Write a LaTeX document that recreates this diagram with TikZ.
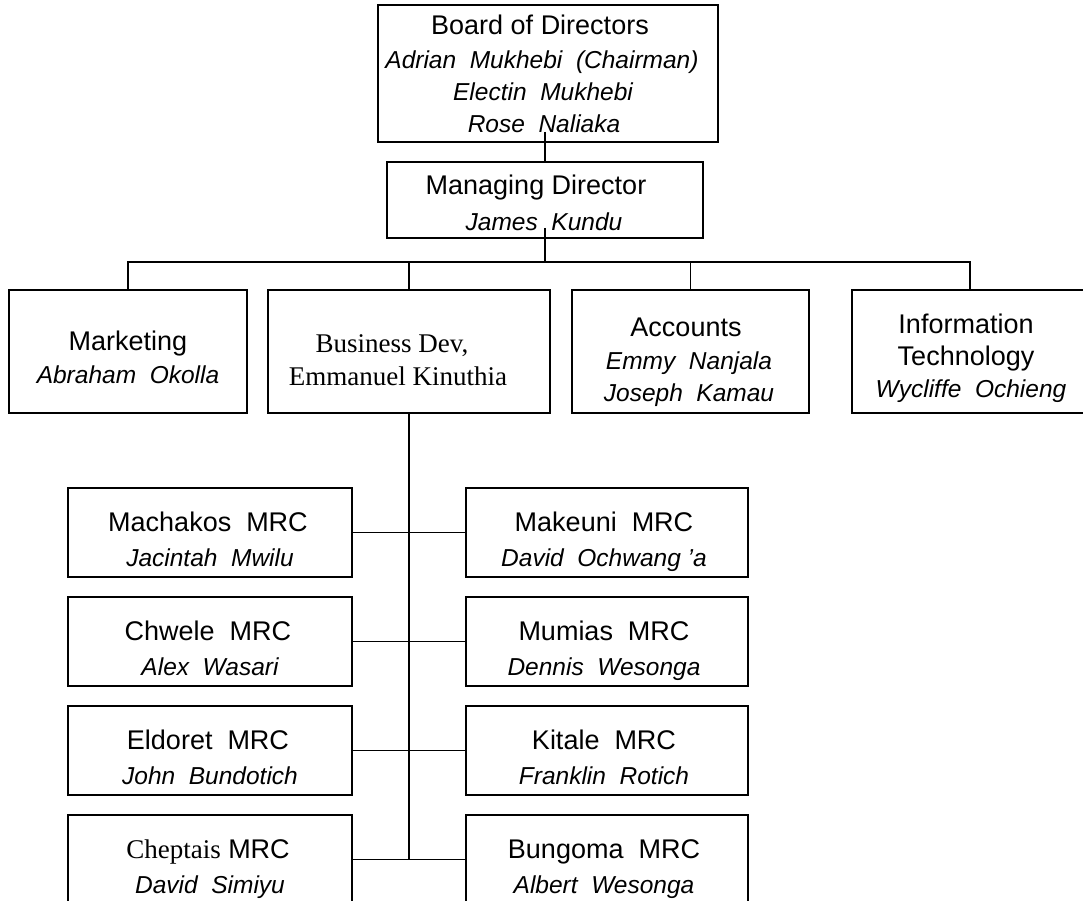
\documentclass[tikz,border=0pt]{standalone}
\usepackage{fontspec}
\setmainfont{Liberation Sans}
\newfontfamily\timesf{Liberation Serif}
\usetikzlibrary{calc}
\begin{document}
\begin{tikzpicture}[x=1pt,y=-1pt,
  box/.style={draw, line width=1.2pt, inner sep=0pt, outer sep=0pt},
  ttl/.style={anchor=base, inner sep=0pt, font=\fontsize{27}{32}\selectfont},
  nm/.style={anchor=base, inner sep=0pt, font=\fontsize{24.5}{30}\selectfont\itshape},
  conn/.style={line width=1.2pt}]
\useasboundingbox (0,0) rectangle (1083,901);
% boxes
\node[box, minimum width=340pt, minimum height=137pt] (board) at (548,73.5) {};
\node[box, minimum width=316pt, minimum height=76pt] (md) at (545,200) {};
\node[box, minimum width=238pt, minimum height=123pt] (mkt) at (128,351.5) {};
\node[box, minimum width=282pt, minimum height=123pt] (biz) at (409,351.5) {};
\node[box, minimum width=237pt, minimum height=123pt] (acc) at (690.5,351.5) {};
\node[box, minimum width=236pt, minimum height=123pt] (it) at (970,351.5) {};
\foreach \n/\t in {1/488,2/597,3/706,4/815}{
  \node[box, minimum width=284pt, minimum height=89pt] (l\n) at (210,\t+44.5) {};
  \node[box, minimum width=282pt, minimum height=89pt] (r\n) at (607,\t+44.5) {};
}
% texts
\node[ttl] (tb1) at (540,35) {Board of Directors};
\node[nm] (tb2) at (542,69) {Adrian~~Mukhebi~~(Chairman)};
\node[nm] (tb3) at (543,101) {Electin~~Mukhebi};
\node[nm] (tb4) at (544,133) {Rose~~Naliaka};
\node[ttl] (tm1) at (536,195) {Managing Director};
\node[nm] (tm2) at (544,230) {James~~Kundu};
\node[ttl] (tk1) at (128,350) {Marketing};
\node[nm] (tk2) at (128,383) {Abraham~~Okolla};
\node[ttl, font=\fontsize{27}{32}\selectfont\timesf] (tz1) at (392,352) {Business Dev,};
\node[ttl, font=\fontsize{27}{32}\selectfont\timesf] (tz2) at (398,385) {Emmanuel Kinuthia};
\node[ttl] (ta1) at (686,336) {Accounts};
\node[nm] (ta2) at (689,369) {Emmy~~Nanjala};
\node[nm] (ta3) at (689,401) {Joseph~~Kamau};
\node[ttl] (ti1) at (966,333) {Information};
\node[ttl] (ti2) at (966,365) {Technology};
\node[nm] (ti3) at (971,397) {Wycliffe~~Ochieng};
% MRC texts
\node[ttl] (lt1) at (208,531) {Machakos~~MRC};
\node[nm]  (ln1) at (210,566) {Jacintah~~Mwilu};
\node[ttl] (lt2) at (208,640) {Chwele~~MRC};
\node[nm]  (ln2) at (210,675) {Alex~~Wasari};
\node[ttl] (lt3) at (208,749) {Eldoret~~MRC};
\node[nm]  (ln3) at (210,784) {John~~Bundotich};
\node[ttl] (lt4) at (208,858) {{\timesf Cheptais} MRC};
\node[nm]  (ln4) at (210,893) {David~~Simiyu};
\node[ttl] (rt1) at (604,531) {Makeuni~~MRC};
\node[nm]  (rn1) at (604,566) {David~~Ochwang~’a};
\node[ttl] (rt2) at (604,640) {Mumias~~MRC};
\node[nm]  (rn2) at (604,675) {Dennis~~Wesonga};
\node[ttl] (rt3) at (604,749) {Kitale~~MRC};
\node[nm]  (rn3) at (604,784) {Franklin~~Rotich};
\node[ttl] (rt4) at (604,858) {Bungoma~~MRC};
\node[nm]  (rn4) at (604,893) {Albert~~Wesonga};
% connectors
\coordinate (bus) at (545,262);
\draw[conn] ($(md.north |- board.south)+(0,-10)$) -- (md.north);
\draw[conn] ($(md.south)+(0,-10)$) -- (bus);
\draw[conn] (mkt.north) |- (bus) -| (it.north);
\draw[conn] (biz.north) -- (biz.north |- bus);
\draw[conn] (acc.north) -- (acc.north |- bus);
\draw[conn] (biz.south) -- (biz.south |- l4.east);
\foreach \n in {1,2,3,4}{
  \draw[conn] (l\n.east) -- (r\n.west);
}
\end{tikzpicture}
\end{document}
